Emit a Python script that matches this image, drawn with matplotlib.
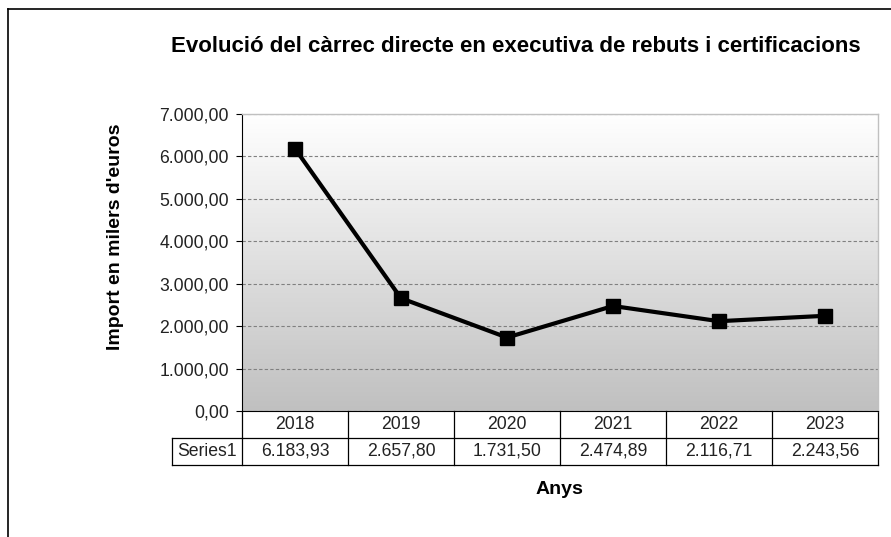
import numpy as np
import matplotlib.pyplot as plt
from matplotlib.lines import Line2D
from matplotlib.colors import LinearSegmentedColormap
from matplotlib.ticker import FuncFormatter

plt.rcParams["font.family"] = ["Liberation Sans", "DejaVu Sans"]

years = ["2018", "2019", "2020", "2021", "2022", "2023"]
values = [6183.93, 2657.80, 1731.50, 2474.89, 2116.71, 2243.56]
series_name = "Series1"
title = "Evolució del càrrec directe en executiva de rebuts i certificacions"
ylabel = "Import en milers d'euros"
xlabel = "Anys"


def fmt_es(v, pos=None):
    s = f"{v:,.2f}"
    return s.replace(",", "X").replace(".", ",").replace("X", ".")


fig = plt.figure(figsize=(8.91, 5.37), dpi=100)
ax = fig.add_axes([242 / 891, 1 - 411 / 537, 636 / 891, 297 / 537])

x = np.arange(len(years))
ax.set_xlim(-0.5, len(years) - 0.5)
ax.set_ylim(0, 7000)

# gradient background, white at top to grey at bottom
bg = LinearSegmentedColormap.from_list("bg", ["#ffffff", "#c0c0c0"])
grad = np.linspace(0, 1, 256).reshape(-1, 1)
ax.imshow(grad, cmap=bg, aspect="auto", extent=(0, 1, 0, 1), origin="upper",
          transform=ax.transAxes, zorder=0)

ax.set_yticks(np.arange(0, 7001, 1000))
ax.yaxis.set_major_formatter(FuncFormatter(fmt_es))
ax.grid(axis="y", color="#808080", linestyle=(0, (3, 2)), linewidth=0.8, zorder=1)
ax.set_xticks([])
ax.tick_params(axis="y", length=4.5, width=0.8, pad=5, labelsize=12.7,
               colors="black", labelcolor="#222222")

for side in ["top", "right"]:
    ax.spines[side].set_color("#c0c0c0")
    ax.spines[side].set_linewidth(1.0)
ax.spines["left"].set_color("black")
ax.spines["bottom"].set_color("black")

ax.plot(x, values, color="black", linewidth=3, marker="s", markersize=10,
        zorder=3, clip_on=False)

# data table under the axis
row_h = 27 / 297
ax_tr = ax.get_xaxis_transform()
lw = 0.9
left_ext = -0.5 - 70 / 106
for xb in np.arange(-0.5, len(years), 1.0):
    ax.add_line(Line2D([xb, xb], [0, -2 * row_h], transform=ax_tr, color="black",
                       linewidth=lw, clip_on=False))
ax.add_line(Line2D([-0.5, len(years) - 0.5], [-row_h, -row_h], transform=ax_tr,
                   color="black", linewidth=lw, clip_on=False))
ax.add_line(Line2D([left_ext, len(years) - 0.5], [-2 * row_h, -2 * row_h],
                   transform=ax_tr, color="black", linewidth=lw, clip_on=False))
ax.add_line(Line2D([left_ext, -0.5], [-row_h, -row_h], transform=ax_tr,
                   color="black", linewidth=lw, clip_on=False))
ax.add_line(Line2D([left_ext, left_ext], [-row_h, -2 * row_h], transform=ax_tr,
                   color="black", linewidth=lw, clip_on=False))

tbl_fs = 12.7
for i, (yr, v) in enumerate(zip(years, values)):
    ax.text(i, -0.5 * row_h, yr, transform=ax_tr, ha="center", va="center",
            fontsize=tbl_fs, color="#222222")
    ax.text(i, -1.5 * row_h, fmt_es(v), transform=ax_tr, ha="center", va="center",
            fontsize=tbl_fs, color="#222222")
ax.text((left_ext - 0.5) / 2, -1.5 * row_h, series_name, transform=ax_tr,
        ha="center", va="center", fontsize=tbl_fs, color="#222222")

fig.text(516 / 891, 1 - 47 / 537, title, ha="center", va="center",
         fontsize=16, fontweight="bold")
fig.text(115 / 891, 1 - 237 / 537, ylabel, rotation=90, ha="center", va="center",
         fontsize=14, fontweight="bold")
fig.text(559 / 891, 1 - 490 / 537, xlabel, ha="center", va="center",
         fontsize=14, fontweight="bold")

# outer chart frame (partially visible)
fig.add_artist(Line2D([8 / 891, 1], [1 - 9 / 537, 1 - 9 / 537], transform=fig.transFigure,
                      color="black", linewidth=1.2))
fig.add_artist(Line2D([8 / 891, 8 / 891], [0, 1 - 9 / 537], transform=fig.transFigure,
                      color="black", linewidth=1.2))

fig.savefig("out.png", dpi=100)
